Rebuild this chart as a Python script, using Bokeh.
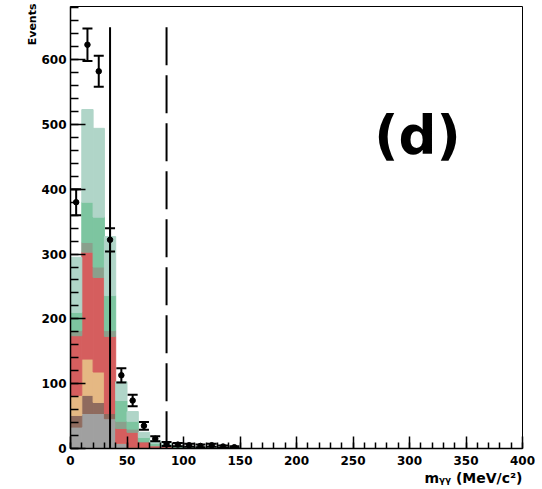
from bokeh.plotting import figure
from bokeh.models import Range1d, SingleIntervalTicker, Label, Title, ColumnDataSource
from bokeh.embed import file_html
from bokeh.resources import INLINE

# ---- data ----
bin_lo = [0, 10, 20, 30, 40, 50, 60, 70, 80, 90, 100, 110, 120, 130, 140]
bin_width = 10

layer_names = ["gray", "brown", "tan", "red", "olive", "green", "light"]
gray  = [33, 54, 54, 46, 8, 2, 1, 0, 0, 0, 0, 0, 0, 0, 0]
brown = [18, 28, 17, 8, 0, 0, 0, 0, 0, 0, 0, 0, 0, 0, 0]
tan   = [31, 56, 47, 0, 0, 0, 0, 0, 0, 0, 0, 0, 0, 0, 0]
red   = [92, 165, 146, 119, 23, 23, 9, 4, 3, 1, 1, 0, 0, 0, 0]
olive = [8, 15, 16, 9, 11, 5, 1, 1, 0, 0, 0, 0, 0, 0, 0]
green = [28, 62, 77, 54, 32, 12, 6, 3, 2, 2, 1, 1, 1, 1, 1]
light = [85, 143, 137, 91, 29, 15, 8, 4, 2, 1, 1, 1, 1, 1, 0]
layer_colors = ["#a0a0a0", "#8f6b5e", "#e5b883", "#d55e5e", "#8aa08c", "#7dc5a0", "#b0d5c8"]

data_counts = [380, 623, 582, 322, 113, 74, 35, 15, 7, 6, 5, 4, 5, 3, 2]
data_errors = [20, 25, 24, 18, 11, 9, 6, 4, 3, 2.5, 2.2, 2, 2.2, 1.7, 1.4]

cut_low = 35
cut_high = 85
cut_top = 650

x_ticks_interval = 50
y_ticks_interval = 100

x_title = "m\u1d67\u1d67 (MeV/c\u00b2)"
y_title = "Events"
panel_tag = "(d)"

# ---- figure ----
p = figure(frame_width=452, frame_height=442, output_backend="svg", toolbar_location=None,
           x_range=Range1d(0, 400), y_range=Range1d(0, 682),
           min_border_left=70, min_border_right=20, min_border_top=6, min_border_bottom=41)
p.background_fill_color = "white"
p.border_fill_color = "white"
p.xgrid.visible = False
p.ygrid.visible = False
p.outline_line_color = "black"
p.outline_line_width = 1

centers = [b + bin_width / 2 for b in bin_lo]
src = ColumnDataSource(dict(x=centers, gray=gray, brown=brown, tan=tan, red=red,
                            olive=olive, green=green, light=light))
p.vbar_stack(layer_names, x="x", width=bin_width, color=layer_colors, source=src)

# cut lines
p.segment(x0=[cut_low], y0=[0], x1=[cut_low], y1=[cut_top], line_color="black", line_width=2)
p.segment(x0=[cut_high], y0=[cut_top], x1=[cut_high], y1=[0], line_color="black", line_width=2,
          line_dash="38 10")

# data points with error bars
lo = [c - e for c, e in zip(data_counts, data_errors)]
hi = [c + e for c, e in zip(data_counts, data_errors)]
dsrc = ColumnDataSource(dict(x=centers, y=data_counts, lo=lo, hi=hi))
p.segment(x0="x", y0="lo", x1="x", y1="hi", source=dsrc, line_color="black", line_width=2)
p.scatter(x="x", y="hi", source=dsrc, marker="dash", size=10, line_color="black", line_width=2)
p.scatter(x="x", y="lo", source=dsrc, marker="dash", size=10, line_color="black", line_width=2)
p.scatter(x="x", y="y", source=dsrc, marker="circle", size=5.5, color="black")

# axes
for ax, interval, tin, min_in in ((p.xaxis[0], x_ticks_interval, 12, 6), (p.yaxis[0], y_ticks_interval, 15, 8)):
    ax.ticker = SingleIntervalTicker(interval=interval, num_minor_ticks=5)
    ax.major_tick_in = tin
    ax.major_tick_out = 0
    ax.minor_tick_in = min_in
    ax.minor_tick_out = 0
    ax.major_label_text_font = "DejaVu Sans"
    ax.major_label_text_font_style = "bold"
    ax.major_label_text_font_size = "12px"
    ax.major_label_text_color = "black"
    ax.axis_line_width = 1.5
    ax.major_tick_line_width = 1.5
    ax.minor_tick_line_width = 1.5
p.yaxis[0].major_label_standoff = 4
p.xaxis[0].major_label_standoff = 7

# texts
font = "DejaVu Sans"
p.add_layout(Title(text=y_title, align="right", text_font=font, text_font_style="bold",
                   text_font_size="11px", text_color="black", standoff=0, offset=-3), "left")
p.add_layout(Title(text=x_title, align="right", text_font=font, text_font_style="bold",
                   text_font_size="14px", text_color="black", standoff=0, offset=0), "below")
p.add_layout(Label(x=307, y=483, text=panel_tag, text_align="center", text_baseline="middle",
                   text_font=font, text_font_style="bold", text_font_size="53px",
                   text_color="black"))

open("out.html", "w").write(file_html(p, INLINE))
